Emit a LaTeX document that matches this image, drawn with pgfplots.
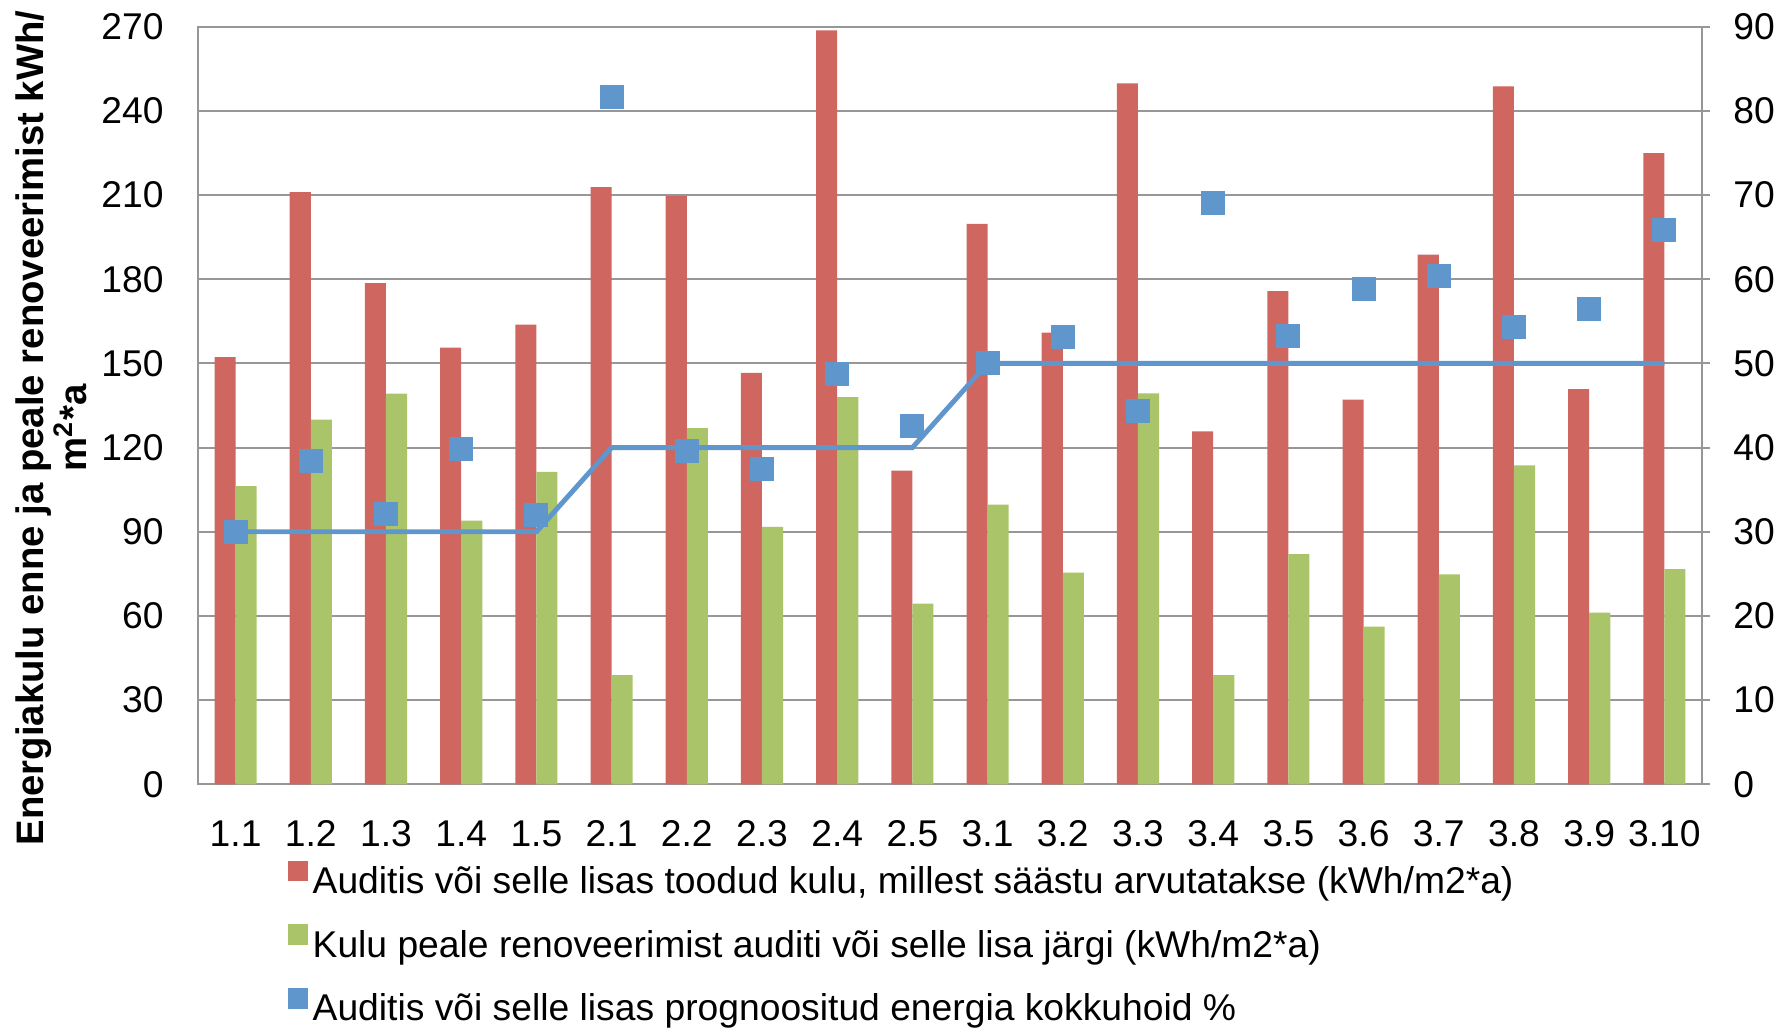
\documentclass[border=0pt]{standalone}
\usepackage{pgfplots}
\usepackage{pgfplotstable}
\pgfplotsset{compat=1.18}
\usepackage{fontspec}
\setmainfont{Liberation Sans}

\definecolor{costred}{HTML}{CF665F}
\definecolor{aftergreen}{HTML}{AAC46A}
\definecolor{savingblue}{HTML}{5F96CB}
\definecolor{gridgray}{HTML}{979797}

% energy use before / after renovation (kWh/m2*a), forecast saving (%), required saving (%)
\pgfplotstableread{
idx before after saving target
0  152.2 106.3 30.0 30
1  211.0 130.0 38.4 30
2  178.6 139.2 32.1 30
3  155.6  94.0 39.8 30
4  163.8 111.3 32.0 30
5  212.8  38.9 81.7 40
6  209.7 126.9 39.6 40
7  146.6  91.7 37.5 40
8  268.7 138.0 48.7 40
9  111.8  64.4 42.6 40
10 199.7  99.7 50.0 50
11 161.0  75.4 53.1 50
12 249.8 139.3 44.4 50
13 125.8  38.9 69.1 50
14 175.8  82.0 53.3 50
15 137.1  56.2 58.8 50
16 188.8  74.8 60.4 50
17 248.7 113.7 54.3 50
18 140.8  61.2 56.5 50
19 224.9  76.7 65.8 50
}\datatable

\newcommand{\chartfont}{\fontsize{10.6}{12.5}\selectfont}

\begin{document}
\begin{tikzpicture}
\pgfplotsset{
  every axis/.append style={
    scale only axis, width=15.04cm, height=7.576cm,
    at={(1.98cm,2.467cm)}, anchor=south west,
    xmin=-0.5, xmax=19.5,
    font=\chartfont,
    tick label style={font=\chartfont},
    /pgf/number format/assume math mode=true,
  },
}
\begin{axis}[
  ymin=0, ymax=270, ytick={0,30,...,270},
  ybar=0pt, bar width=0.28,
  xtick={0,...,19},
  xticklabels={1.1,1.2,1.3,1.4,1.5,2.1,2.2,2.3,2.4,2.5,3.1,3.2,3.3,3.4,3.5,3.6,3.7,3.8,3.9,3.10},
  major tick length=0pt,
  axis line style={gridgray, line width=0.6pt},
  ymajorgrids, grid style={gridgray, line width=0.6pt},
  yticklabel style={xshift=-0.22cm},
  xticklabel style={yshift=-0.24cm},
  ylabel={Energiakulu enne ja peale renoveerimist kWh/\\m\textsuperscript{2}*a},
  ylabel style={at={(axis description cs:-0.0975,0.4703)}, anchor=center,
    align=center, font=\bfseries\fontsize{10.9}{12}\selectfont},
]
\addplot[fill=costred, draw=none] table[x=idx, y=before]{\datatable};
\addplot[fill=aftergreen, draw=none] table[x=idx, y=after]{\datatable};
\end{axis}

\begin{axis}[
  ymin=0, ymax=90, ytick={0,10,...,90},
  axis y line*=right, axis x line=none,
  tick align=outside, major tick length=0.08cm,
  y axis line style={gridgray, line width=0.6pt},
  major tick style={gridgray, line width=0.6pt},
  yticklabel style={xshift=0.11cm},
  legend style={at={(axis description cs:0.0592,-0.100)}, anchor=north west,
    draw=none, fill=none, inner sep=0pt, row sep=0.21cm,
    legend cell align=left, font=\chartfont,
    nodes={inner xsep=0.045cm, inner ysep=0pt, text height=0.3cm, text depth=0.1cm}},
]
\addlegendimage{legend image code/.code={\fill[costred] (0cm,0.03cm) rectangle (0.19cm,0.22cm);}}
\addlegendentry{Auditis või selle lisas toodud kulu, millest säästu arvutatakse (kWh/m2*a)}
\addlegendimage{legend image code/.code={\fill[aftergreen] (0cm,0.03cm) rectangle (0.19cm,0.22cm);}}
\addlegendentry{Kulu peale renoveerimist auditi või selle lisa järgi (kWh/m2*a)}
\addplot[savingblue, line width=1.4pt, forget plot] table[x=idx, y=target]{\datatable};
\addplot[only marks, mark=square*, mark size=0.115cm, mark options={fill=savingblue, draw=savingblue, line width=0pt},
  legend image code/.code={\fill[savingblue] (0cm,0.03cm) rectangle (0.19cm,0.22cm);}]
  table[x=idx, y=saving]{\datatable};
\addlegendentry{Auditis või selle lisas prognoositud energia kokkuhoid \%}
\end{axis}
\pgfresetboundingbox
\path[use as bounding box] (0,0) rectangle (17.77cm,10.31cm);
\end{tikzpicture}
\end{document}
